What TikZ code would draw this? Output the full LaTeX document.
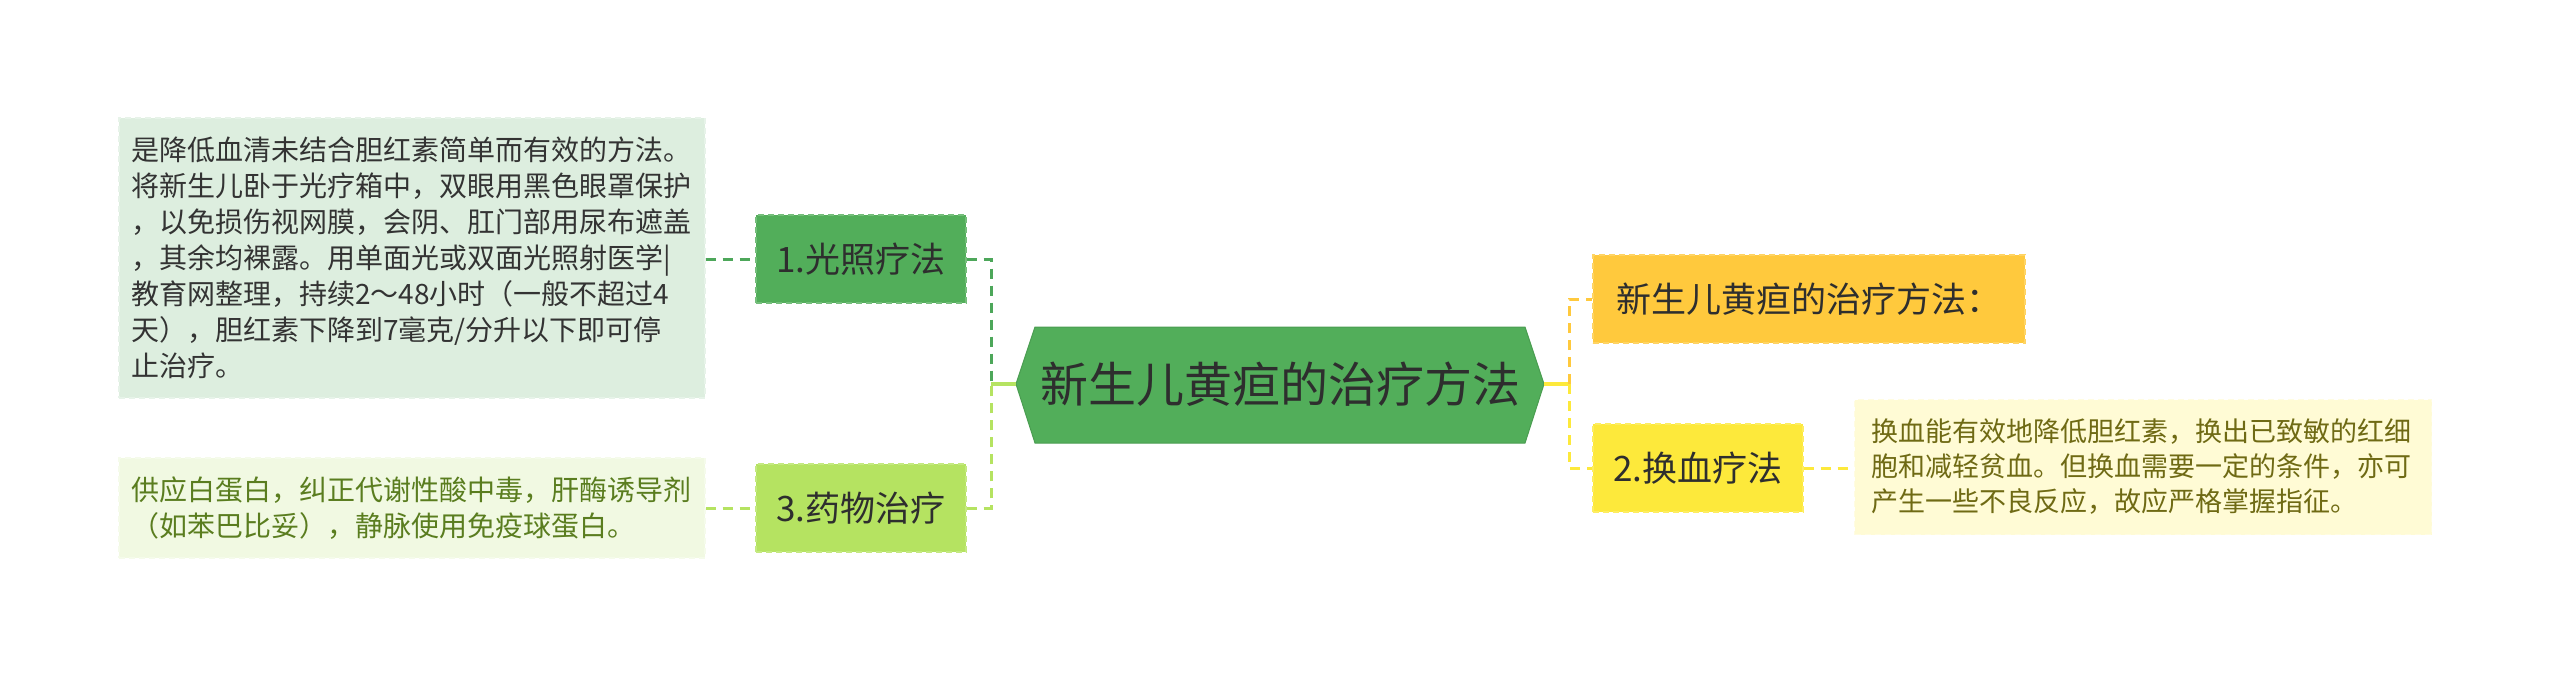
\documentclass[tikz,border=0pt]{standalone}
\usepackage{fontspec}
\setmainfont{Noto Sans CJK SC}
\definecolor{g1}{HTML}{52AE5A}
\definecolor{g3}{HTML}{B5E361}
\definecolor{b1fill}{HTML}{DDEEDF}
\definecolor{b3fill}{HTML}{F1F9E2}
\definecolor{amb}{HTML}{FFC93D}
\definecolor{yel}{HTML}{FDE93B}
\definecolor{rbfill}{HTML}{FFFBD5}
\definecolor{dgline}{HTML}{4DA75A}
\definecolor{txt}{HTML}{2E2E2E}
\definecolor{b1txt}{HTML}{333333}
\definecolor{b3txt}{HTML}{5A7D1F}
\definecolor{rbtxt}{HTML}{6F6A14}
\begin{document}
\begin{tikzpicture}[x=0.5pt,y=-0.5pt,
  conn/.style={line width=1.5pt, dash pattern=on 5pt off 3.5pt},
  stub/.style={line width=2pt},
  topic/.style={rectangle, draw=#1!80!white, fill=#1, densely dashed, line width=0.6pt,
    minimum height=44pt, inner sep=0pt, text=txt, font=\fontsize{17.5pt}{21pt}\selectfont},
  note/.style={rectangle, draw=#1!70!white, fill=#1, densely dashed, line width=0.6pt,
    inner ysep=0pt, align=left, font=\fontsize{14pt}{18pt}\selectfont}
]
\useasboundingbox (0,0) rectangle (2560,677);
\fill[white] (0,0) rectangle (2560,677);

% center hexagon
\coordinate (hl) at (1016,384);
\coordinate (hr) at (1544,384);
\filldraw[fill=g1, draw=g1!90!black, line width=0.5pt]
  (hl) -- (1035,327) -- (1525,327) -- (hr) -- (1525,443) -- (1035,443) -- cycle;
\node[text=txt, font=\fontsize{24pt}{28pt}\selectfont] (center) at (1280,384) {新生儿黄疸的治疗方法};

% left topics
\node[topic=g1, minimum width=105pt] (n1) at (861,259) {1.光照疗法};
\node[topic=g3, minimum width=105pt] (n3) at (861,508) {3.药物治疗};

% left notes
\node[note=b1fill, text=b1txt, text width=281pt, inner xsep=6pt, minimum height=140pt] (b1) at (412,258)
 {是降低血清未结合胆红素简单而有效的方法。\\
  将新生儿卧于光疗箱中，双眼用黑色眼罩保护\\
  ，以免损伤视网膜，会阴、肛门部用尿布遮盖\\
  ，其余均裸露。用单面光或双面光照射医学|\\
  教育网整理，持续2～48小时（一般不超过4\\
  天），胆红素下降到7毫克/分升以下即可停\\
  止治疗。};
\node[note=b3fill, text=b3txt, text width=281pt, inner xsep=6pt, minimum height=50pt] (b3) at (412,508)
 {供应白蛋白，纠正代谢性酸中毒，肝酶诱导剂\\
  （如苯巴比妥），静脉使用免疫球蛋白。};

% right topics
\node[topic=amb, minimum width=216pt] (r1) at (1809,299) {新生儿黄疸的治疗方法：};
\node[topic=yel, minimum width=105pt] (n2) at (1698,468) {2.换血疗法};

% right note
\node[note=rbfill, text=rbtxt, text width=272pt, inner xsep=8.25pt, minimum height=67.5pt,
  font=\fontsize{13.5pt}{17.5pt}\selectfont] (rb) at (2143,467)
 {换血能有效地降低胆红素，换出已致敏的红细\\
  胞和减轻贫血。但换血需要一定的条件，亦可\\
  产生一些不良反应，故应严格掌握指征。};

% connectors
\coordinate (jl) at (991,384);
\coordinate (jr) at (1569,384);
\draw[stub, draw=g3] (hl) -- (jl);
\draw[conn, draw=dgline] (n1.east) -| (jl);
\draw[conn, draw=g3] (n3.east) -| (jl);
\draw[conn, draw=dgline] (b1.east |- n1.west) -- (n1.west);
\draw[conn, draw=g3] (b3.east |- n3.west) -- (n3.west);
\draw[stub, draw=yel] (hr) -- (jr);
\draw[conn, draw=amb] (jr) |- (r1.west);
\draw[conn, draw=yel] (jr) |- (n2.west);
\draw[conn, draw=yel] (n2.east) -- (rb.west |- n2.east);
\end{tikzpicture}
\end{document}
